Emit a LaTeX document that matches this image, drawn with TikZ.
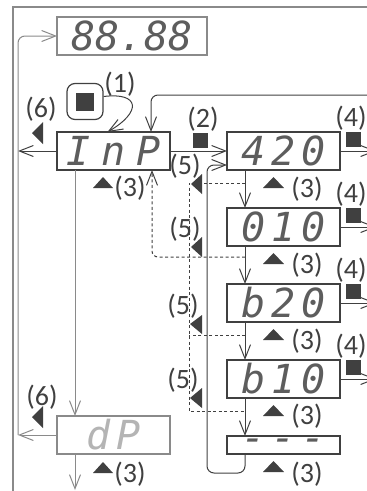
\documentclass[tikz,border=0pt]{standalone}
\usepackage{fontspec}
\setmainfont{Carlito}
\newfontfamily\segfont[ItalicFont={DejaVu Sans Mono Oblique}]{DejaVu Sans Mono}
\usetikzlibrary{arrows.meta, positioning}
\definecolor{ink}{HTML}{404040}
\definecolor{midgray}{HTML}{8A8A8A}
\definecolor{palegray}{HTML}{B4B4B4}
\tikzstyle{display} = [rectangle, draw=ink, line width=1.2pt, minimum width=113pt, minimum height=38pt, inner sep=0pt, outer sep=0pt, text=ink!85, font=\segfont\itshape\fontsize{40}{40}\selectfont]
\tikzstyle{arrow} = [draw=ink, line width=1pt, -{Straight Barb[length=14pt, width=11pt]}]

\begin{document}
\begin{tikzpicture}[x=1pt, y=-1pt,
        lbl/.style={font=\fontsize{28}{28}\selectfont, text=ink, inner sep=0pt},
        key/.style={rectangle, fill=ink, minimum size=15pt, inner sep=0pt},
        dashline/.style={draw=ink, line width=1pt, dash pattern=on 3pt off 2.5pt},
        frame/.style={draw=midgray, line width=2pt}
        ]

        \useasboundingbox (0,0) rectangle (367,491);
        \clip (0,0) rectangle (367,491);

        \node[display, minimum width=150pt, draw=midgray] (meter) at (132,36) {88.88};
        \node[display] (inp) at (113.5,151) {\addfontfeatures{LetterSpace=27}InP};
        \node[display, right=57pt of inp] (r420) {\addfontfeatures{LetterSpace=15}420};
        \node[display, below=38pt of r420] (r010) {\addfontfeatures{LetterSpace=15}010};
        \node[display, below=38pt of r010] (rb20) {\addfontfeatures{LetterSpace=15}b20};
        \node[display, below=38pt of rb20] (rb10) {\addfontfeatures{LetterSpace=15}b10};
        \node[display, below=38pt of rb10, minimum height=18pt] (rdash) {\addfontfeatures{LetterSpace=15}---};
        \node[display, draw=midgray, text=palegray, below=246pt of inp] (dp) {\addfontfeatures{LetterSpace=17}dP\hspace{10pt}};

        \node[rectangle, draw=ink, line width=1.2pt, rounded corners=8pt, minimum size=36pt] (btn) at (85,101.5) {};
        \node[key, minimum size=18pt] (btnkey) at (btn) {};

        \coordinate (lbus) at (18,0);
        \coordinate (bus5) at (189,0);
        \coordinate (outx) at (376,0);
        \coordinate (topret) at (376,95);
        \coordinate (dpnext) at (75,490);

        \draw[frame] (13,491) -- (13,7) -- (375,7);

        \draw[arrow] (inp.west) -- (inp.west -| lbus);
        \draw[arrow, draw=midgray] (dp.west) -- (dp.west -| lbus);
        \draw[arrow, draw=midgray, rounded corners=7pt] (dp.west -| lbus) -- (meter.west -| lbus) -- (meter.west);
        \draw[arrow, rounded corners=7pt] (topret) -| ([xshift=-19pt]inp.north east);
        \draw[arrow] ([yshift=5pt]btn.east) .. controls (140,92) and (142,112) .. ([xshift=-6pt]inp.north);
        \draw[arrow] (inp.east) -- (r420.west);
        \draw[arrow, draw=midgray] ([xshift=18pt]inp.south west) -- ([xshift=18pt]dp.north west);
        \draw[arrow, draw=midgray] ([xshift=18pt]dp.south west) -- (dpnext);

        \draw[arrow] ([xshift=18pt]r420.south west) -- ([xshift=18pt]r010.north west);
        \draw[arrow] ([xshift=18pt]r010.south west) -- ([xshift=18pt]rb20.north west);
        \draw[arrow] ([xshift=18pt]rb20.south west) -- ([xshift=18pt]rb10.north west);
        \draw[arrow] ([xshift=18pt]rb10.south west) -- ([xshift=18pt]rdash.north west);
        \draw[arrow, rounded corners=7pt] ([xshift=18pt]rdash.south west) -- ++(0,19) -| ([xshift=-20pt,yshift=-14pt]r420.west) -- ([yshift=-14pt]r420.west);

        \draw[arrow] (r420.east) -- (r420.east -| outx);
        \draw[arrow] (r010.east) -- (r010.east -| outx);
        \draw[arrow] (rb20.east) -- (rb20.east -| outx);
        \draw[arrow] (rb10.east) -- (rb10.east -| outx);

        \draw[dashline] ([xshift=18pt,yshift=-13pt]r420.south west) -| ([yshift=-13pt]rb10.south -| bus5) -- ([xshift=18pt,yshift=-13pt]rb10.south west);
        \draw[dashline] ([xshift=18pt,yshift=-13pt]rb20.south west) -- ([yshift=-13pt]rb20.south -| bus5);
        \draw[dashline, arrow, rounded corners=6pt] ([xshift=18pt,yshift=-11pt]r010.south west) -| ([xshift=-18pt]inp.south east);

        \node[lbl] (n1) at (120,84) {(1)};
        \node[lbl] (n2) at (203,119) {(2)};
        \node[key] (k2) at (200.5,140) {};
        \node[lbl] (n6top) at (41,109) {(6)};
        \node[lbl] (n6bot) at (42,397) {(6)};
        \fill[ink] (32,133) -- (43,122) -- (43,144) -- cycle;
        \fill[ink] (32,417) -- (43,406) -- (43,428) -- cycle;

        \node[lbl] (n3inp) at (130,188) {(3)};
        \node[lbl] (n3dp) at (130,474) {(3)};
        \node[lbl] (n3r420) at (307,189) {(3)};
        \node[lbl] (n3r010) at (307,265) {(3)};
        \node[lbl] (n3rb20) at (307,341) {(3)};
        \node[lbl] (n3rb10) at (307,416) {(3)};
        \node[lbl] (n3rdash) at (307,474) {(3)};
        \fill[ink] (93,188) -- (103,177) -- (113,188) -- cycle;
        \fill[ink] (93,473) -- (103,462) -- (113,473) -- cycle;
        \fill[ink] (263,188) -- (273.5,177) -- (284,188) -- cycle;
        \fill[ink] (263,264) -- (273.5,253) -- (284,264) -- cycle;
        \fill[ink] (263,340) -- (273.5,329) -- (284,340) -- cycle;
        \fill[ink] (263,416) -- (273.5,405) -- (284,416) -- cycle;
        \fill[ink] (263,472) -- (273.5,461) -- (284,472) -- cycle;

        \node[lbl] (n4r420) at (351,118) {(4)};
        \node[lbl] (n4r010) at (351,194) {(4)};
        \node[lbl] (n4rb20) at (351,270) {(4)};
        \node[lbl] (n4rb10) at (351,346) {(4)};
        \node[key] (k4r420) at (353.5,139.5) {};
        \node[key] (k4r010) at (353.5,215.5) {};
        \node[key] (k4rb20) at (353.5,291.5) {};
        \node[key] (k4rb10) at (353.5,367.5) {};

        \node[lbl] (n5a) at (185,166) {(5)};
        \node[lbl] (n5b) at (185,229) {(5)};
        \node[lbl] (n5c) at (183,306) {(5)};
        \node[lbl] (n5d) at (183,380) {(5)};
        \fill[ink] (191,184) -- (202,174) -- (202,194) -- cycle;
        \fill[ink] (191,247) -- (202,237) -- (202,257) -- cycle;
        \fill[ink] (190,324) -- (202,315) -- (202,334) -- cycle;
        \fill[ink] (190,398) -- (202,388) -- (202,408) -- cycle;

    \end{tikzpicture}
\end{document}
